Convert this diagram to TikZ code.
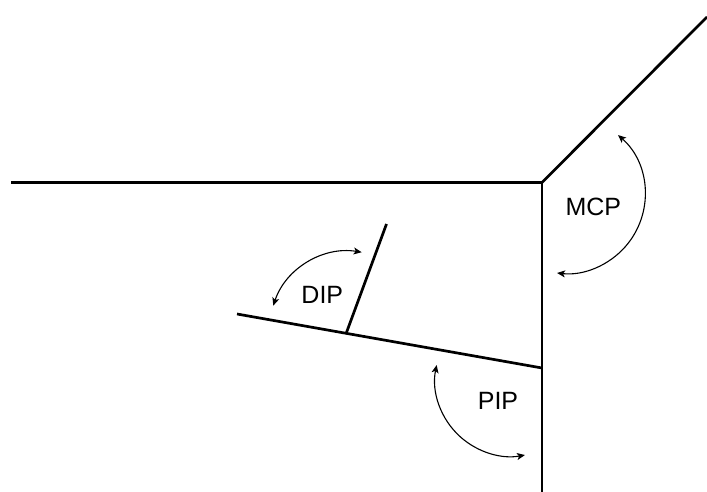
\documentclass[tikz,border=0pt]{standalone}
\usepackage{fontspec}
\setmainfont{Liberation Sans}
\usetikzlibrary{arrows.meta}
\tikzset{
  bone/.style={line width=2.7pt, line join=miter},
  rot/.style={line width=1.1pt, {Stealth[length=8pt,width=7pt,inset=2pt]}-{Stealth[length=8pt,width=7pt,inset=2pt]}},
  lbl/.style={inner sep=0pt, font=\fontsize{25}{25}\selectfont}
}
\begin{document}
\begin{tikzpicture}[x=1pt,y=1pt]
\useasboundingbox (0,0) rectangle (707,492);
% joints
\coordinate (left) at (11,309.5);
\coordinate (mcp) at (542,309.5);
\coordinate (tip) at (707,475);
\coordinate (bottom) at (542,0);
\coordinate (pip) at (542,124);
\coordinate (dipend) at (237,178);
\coordinate (dip) at (346.5,159.5);
\coordinate (dtip) at (386.5,268);
% bones
\draw[bone] (left) -- (mcp) -- (tip);
\draw[bone] (mcp) -- (bottom);
\draw[bone] (pip) -- (dipend);
\draw[bone] (dip) -- (dtip);
% arc centres
\coordinate (cmcp) at (566,297.5);
\coordinate (cdip) at (348.8,161.2);
\coordinate (cpip) at (511.1,111.7);
% rotation arrows
\draw[rot] ([shift={(48.8:79)}]cmcp) arc[start angle=48.8, end angle=-96.5, radius=79];
\draw[rot] ([shift={(80.7:79.6)}]cdip) arc[start angle=80.7, end angle=161.6, radius=79.6];
\draw[rot] ([shift={(168.4:76)}]cpip) arc[start angle=168.4, end angle=280.5, radius=76];
% labels
\node[lbl] (lmcp) at (593.3,285.3) {MCP};
\node[lbl] (ldip) at (322.3,196.8) {DIP};
\node[lbl] (lpip) at (498,91.5) {PIP};
\end{tikzpicture}
\end{document}
